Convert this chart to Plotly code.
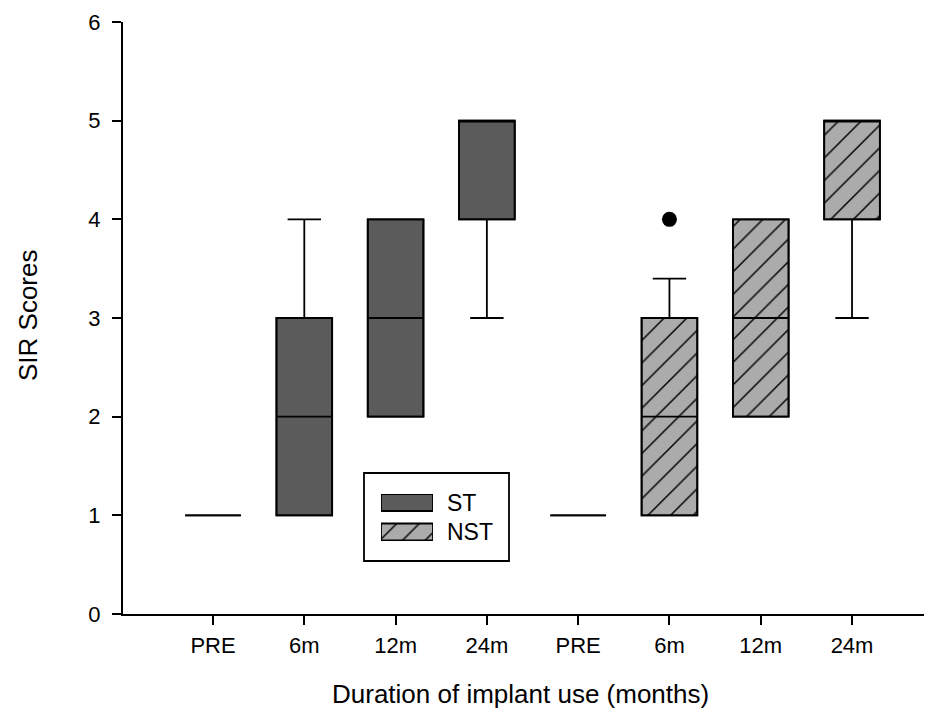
import plotly.graph_objects as go

# ---- data ----
tick_labels = ["PRE", "6m", "12m", "24m", "PRE", "6m", "12m", "24m"]
positions = [0, 1, 2, 3, 4, 5, 6, 7]

st_pos = [0, 1, 2, 3]
st_q1 = [1, 1, 2, 4]
st_median = [1, 2, 3, 5]
st_q3 = [1, 3, 4, 5]
st_low = [1, 1, 2, 3]
st_high = [1, 4, 4, 5]

nst_pos = [4, 5, 6, 7]
nst_q1 = [1, 1, 2, 4]
nst_median = [1, 2, 3, 5]
nst_q3 = [1, 3, 4, 5]
nst_low = [1, 1, 2, 3]
nst_high = [1, 3.4, 4, 5]

outlier_x = [5]
outlier_y = [4]

legend_names = ["ST", "NST"]

# ---- styles ----
ST_COLOR = "#5b5b5b"
NST_COLOR = "#ababab"
BOX_W = 0.61
LW = 1.8
FONT = "Liberation Sans, Arial, sans-serif"

OFF = 8  # page body margin
W, H = 924, 700
L, R, T, B = 123 - OFF, 0, 22 - OFF, 94
pw = W - L - R
ph = H - T - B


def px_x(p):  # page pixel -> paper
    return (p - OFF - L) / pw


def px_y(p):
    return (H - B - (p - OFF)) / ph


fig = go.Figure()

# ST boxes (fill)
fig.add_trace(go.Bar(
    x=st_pos, y=[q3 - q1 for q1, q3 in zip(st_q1, st_q3)], base=st_q1,
    width=BOX_W, marker=dict(color=ST_COLOR, line=dict(color="black", width=LW)),
    showlegend=False, hoverinfo="skip"))

# NST boxes (hatched fill)
fig.add_trace(go.Bar(
    x=nst_pos, y=[q3 - q1 for q1, q3 in zip(nst_q1, nst_q3)], base=nst_q1,
    width=BOX_W,
    marker=dict(color=NST_COLOR, line=dict(color="black", width=LW),
                pattern=dict(shape="/", fgcolor="black", bgcolor=NST_COLOR,
                             size=16, solidity=0.09, fillmode="replace")),
    showlegend=False, hoverinfo="skip"))

# box outlines, medians and whiskers
for pos, q1, med, q3, lo, hi in [(st_pos, st_q1, st_median, st_q3, st_low, st_high),
                                 (nst_pos, nst_q1, nst_median, nst_q3, nst_low, nst_high)]:
    fig.add_trace(go.Box(
        x=pos, q1=q1, median=med, q3=q3, lowerfence=lo, upperfence=hi,
        width=BOX_W, whiskerwidth=0.6, boxpoints=False,
        fillcolor="rgba(0,0,0,0)", line=dict(color="black", width=LW),
        showlegend=False, hoverinfo="skip"))

# outlier
fig.add_trace(go.Scatter(
    x=outlier_x, y=outlier_y, mode="markers",
    marker=dict(color="black", size=15), showlegend=False, hoverinfo="skip"))

# legend swatches in an inset axis
fig.add_trace(go.Bar(
    x=[1], y=[1], base=0, orientation="h", width=0.576, xaxis="x2", yaxis="y2",
    marker=dict(color=ST_COLOR, line=dict(color="black", width=LW)),
    showlegend=False, hoverinfo="skip"))
fig.add_trace(go.Bar(
    x=[1], y=[0], base=0, orientation="h", width=0.576, xaxis="x2", yaxis="y2",
    marker=dict(color=NST_COLOR, line=dict(color="black", width=LW),
                pattern=dict(shape="/", fgcolor="black", bgcolor=NST_COLOR,
                             size=16, solidity=0.09, fillmode="replace")),
    showlegend=False, hoverinfo="skip"))

fig.update_layout(
    width=W, height=H,
    margin=dict(l=L, r=R, t=T, b=B, pad=0),
    paper_bgcolor="white", plot_bgcolor="white",
    font=dict(family=FONT, size=22, color="black"),
    barmode="overlay", boxmode="overlay",
    showlegend=False,
    xaxis=dict(
        range=[-0.986, 7.876], tickvals=positions, ticktext=tick_labels,
        showline=True, linecolor="black", linewidth=2,
        ticks="outside", ticklen=9, tickwidth=2, tickcolor="black",
        showgrid=False, zeroline=False,
        tickfont=dict(size=22), ticklabelstandoff=2,
    ),
    yaxis=dict(
        range=[0, 6], tickvals=[0, 1, 2, 3, 4, 5, 6],
        showline=True, linecolor="black", linewidth=2,
        ticks="outside", ticklen=9, tickwidth=2, tickcolor="black",
        showgrid=False, zeroline=False,
        tickfont=dict(size=22), ticklabelstandoff=7,
    ),
    xaxis2=dict(domain=[px_x(381), px_x(433)], range=[0, 1], anchor="y2",
                visible=False, fixedrange=True),
    yaxis2=dict(domain=[px_y(541), px_y(494)], range=[-0.305, 1.288], anchor="x2",
                visible=False, fixedrange=True),
    shapes=[dict(type="rect", xref="paper", yref="paper",
                 x0=px_x(364), x1=px_x(509), y0=px_y(561), y1=px_y(473),
                 line=dict(color="black", width=LW), fillcolor="rgba(0,0,0,0)",
                 layer="above")],
    annotations=[
        dict(text=legend_names[0], xref="paper", yref="paper",
             x=px_x(445), y=px_y(502.5), xanchor="left", yanchor="middle",
             showarrow=False, font=dict(size=23)),
        dict(text=legend_names[1], xref="paper", yref="paper",
             x=px_x(445), y=px_y(532), xanchor="left", yanchor="middle",
             showarrow=False, font=dict(size=23)),
        dict(text="Duration of implant use (months)", xref="paper", yref="paper",
             x=px_x(330), y=px_y(694), xanchor="left", yanchor="middle",
             showarrow=False, font=dict(size=26)),
        dict(text="SIR Scores", xref="paper", yref="paper", textangle=-90,
             x=px_x(28), y=px_y(315), xanchor="center", yanchor="middle",
             showarrow=False, font=dict(size=26)),
    ],
)

fig.write_html("out.html")
